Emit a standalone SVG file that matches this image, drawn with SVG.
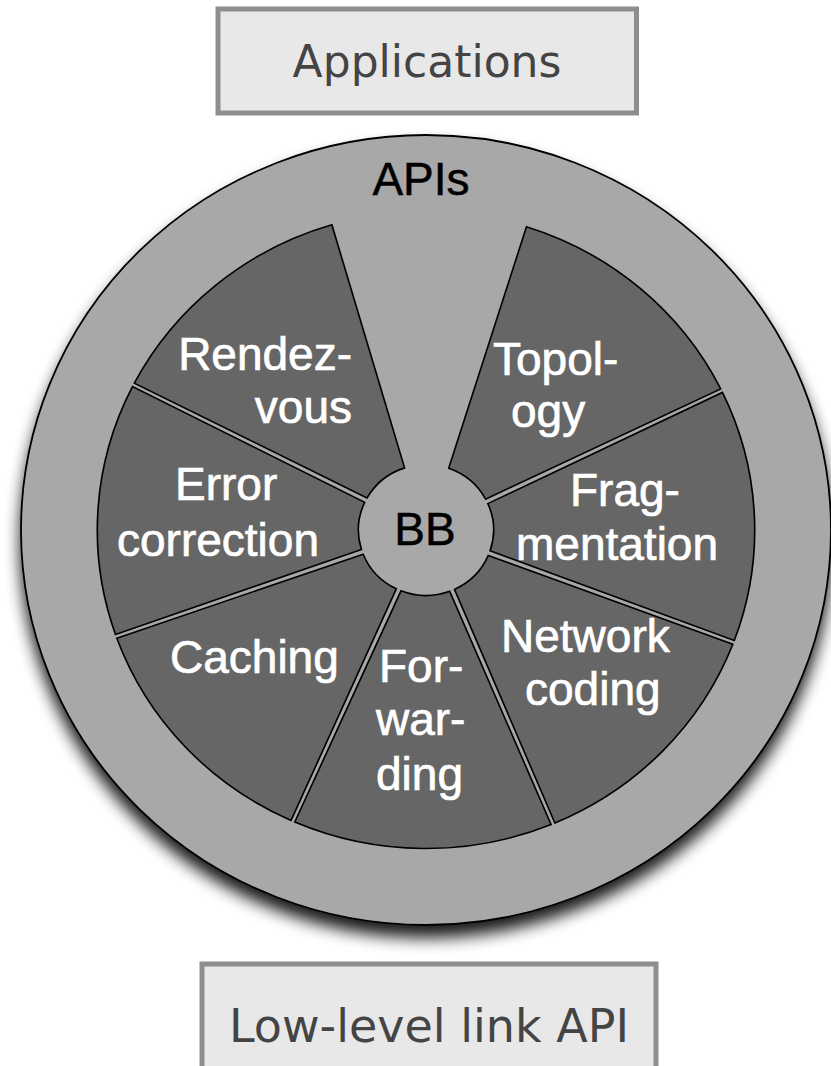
<svg xmlns="http://www.w3.org/2000/svg" xmlns:xlink="http://www.w3.org/1999/xlink" width="831" height="1066" viewBox="0 0 831 1066">
<style>
.box{fill:#e8e8e8;stroke:#8e8e8e;stroke-width:5}
.boxtxt{font-family:"DejaVu Sans",Verdana,sans-serif;font-size:44px;fill:#444;text-anchor:middle}
.seg{fill:#666;stroke:#000;stroke-width:1.6;stroke-linejoin:miter}
.lbl{font-family:"Liberation Sans",Arial,sans-serif;font-size:46px;fill:#fff;stroke:#fff;stroke-width:0.7}
.dk{font-family:"Liberation Sans",Arial,sans-serif;font-size:46px;fill:#000;stroke:#000;stroke-width:0.5;text-anchor:middle}
</style>
<defs>
<filter id="shadow" x="-10%" y="-10%" width="120%" height="125%">
<feGaussianBlur in="SourceAlpha" stdDeviation="8"/>
<feOffset dy="12" result="b"/>
<feComponentTransfer><feFuncA type="linear" slope="0.9"/></feComponentTransfer>
<feMerge><feMergeNode/><feMergeNode in="SourceGraphic"/></feMerge>
</filter>
<path id="seg" d="M -23.60,-61.10 L -124.20,-293.30 A 318.5 318.5 0 0 1 124.20,-293.30 L 23.60,-61.10 A 65.5 65.5 0 0 0 -23.60,-61.10 Z"/>
</defs>
<g id="applications">
<rect class="box" x="218" y="9" width="418.5" height="104"/>
<text class="boxtxt" x="427" y="77">Applications</text>
</g>
<g id="lowlevel">
<rect class="box" x="202" y="964" width="454" height="110"/>
<text class="boxtxt" x="429" y="1042" style="font-size:46px">Low-level link API</text>
</g>
<g id="apis">
<ellipse cx="426" cy="530" rx="405" ry="395" fill="#a8a8a8" stroke="#000" stroke-width="1.8" filter="url(#shadow)"/>
<text class="dk" x="421" y="195">APIs</text>
</g>
<g id="topology">
<use xlink:href="#seg" class="seg" transform="translate(426,530) scale(1.032,1) rotate(40.75)"/>
<text class="lbl" x="493" y="375">Topol-</text>
<text class="lbl" x="511" y="427">ogy</text>
</g>
<g id="fragmentation">
<use xlink:href="#seg" class="seg" transform="translate(426,530) scale(1.032,1) rotate(87.36)"/>
<text class="lbl" x="570" y="506">Frag-</text>
<text class="lbl" x="516" y="560">mentation</text>
</g>
<g id="network-coding">
<use xlink:href="#seg" class="seg" transform="translate(426,530) scale(1.032,1) rotate(133.97)"/>
<text class="lbl" x="501" y="652">Network</text>
<text class="lbl" x="525" y="705">coding</text>
</g>
<g id="forwarding">
<use xlink:href="#seg" class="seg" transform="translate(426,530) scale(1.032,1) rotate(180.58)"/>
<text class="lbl" x="379" y="682">For-</text>
<text class="lbl" x="376" y="735">war-</text>
<text class="lbl" x="376" y="790">ding</text>
</g>
<g id="caching">
<use xlink:href="#seg" class="seg" transform="translate(426,530) scale(1.032,1) rotate(227.19)"/>
<text class="lbl" x="170" y="673">Caching</text>
</g>
<g id="error-correction">
<use xlink:href="#seg" class="seg" transform="translate(426,530) scale(1.032,1) rotate(273.8)"/>
<text class="lbl" x="175" y="500">Error</text>
<text class="lbl" x="117" y="556">correction</text>
</g>
<g id="rendezvous">
<use xlink:href="#seg" class="seg" transform="translate(426,530) scale(1.032,1) rotate(320.41)"/>
<text class="lbl" x="352" y="370" text-anchor="end">Rendez-</text>
<text class="lbl" x="352" y="423" text-anchor="end">vous</text>
</g>
<g id="bb">
<text class="dk" x="425" y="545">BB</text>
</g>
<g id="connectors"/>
</svg>
